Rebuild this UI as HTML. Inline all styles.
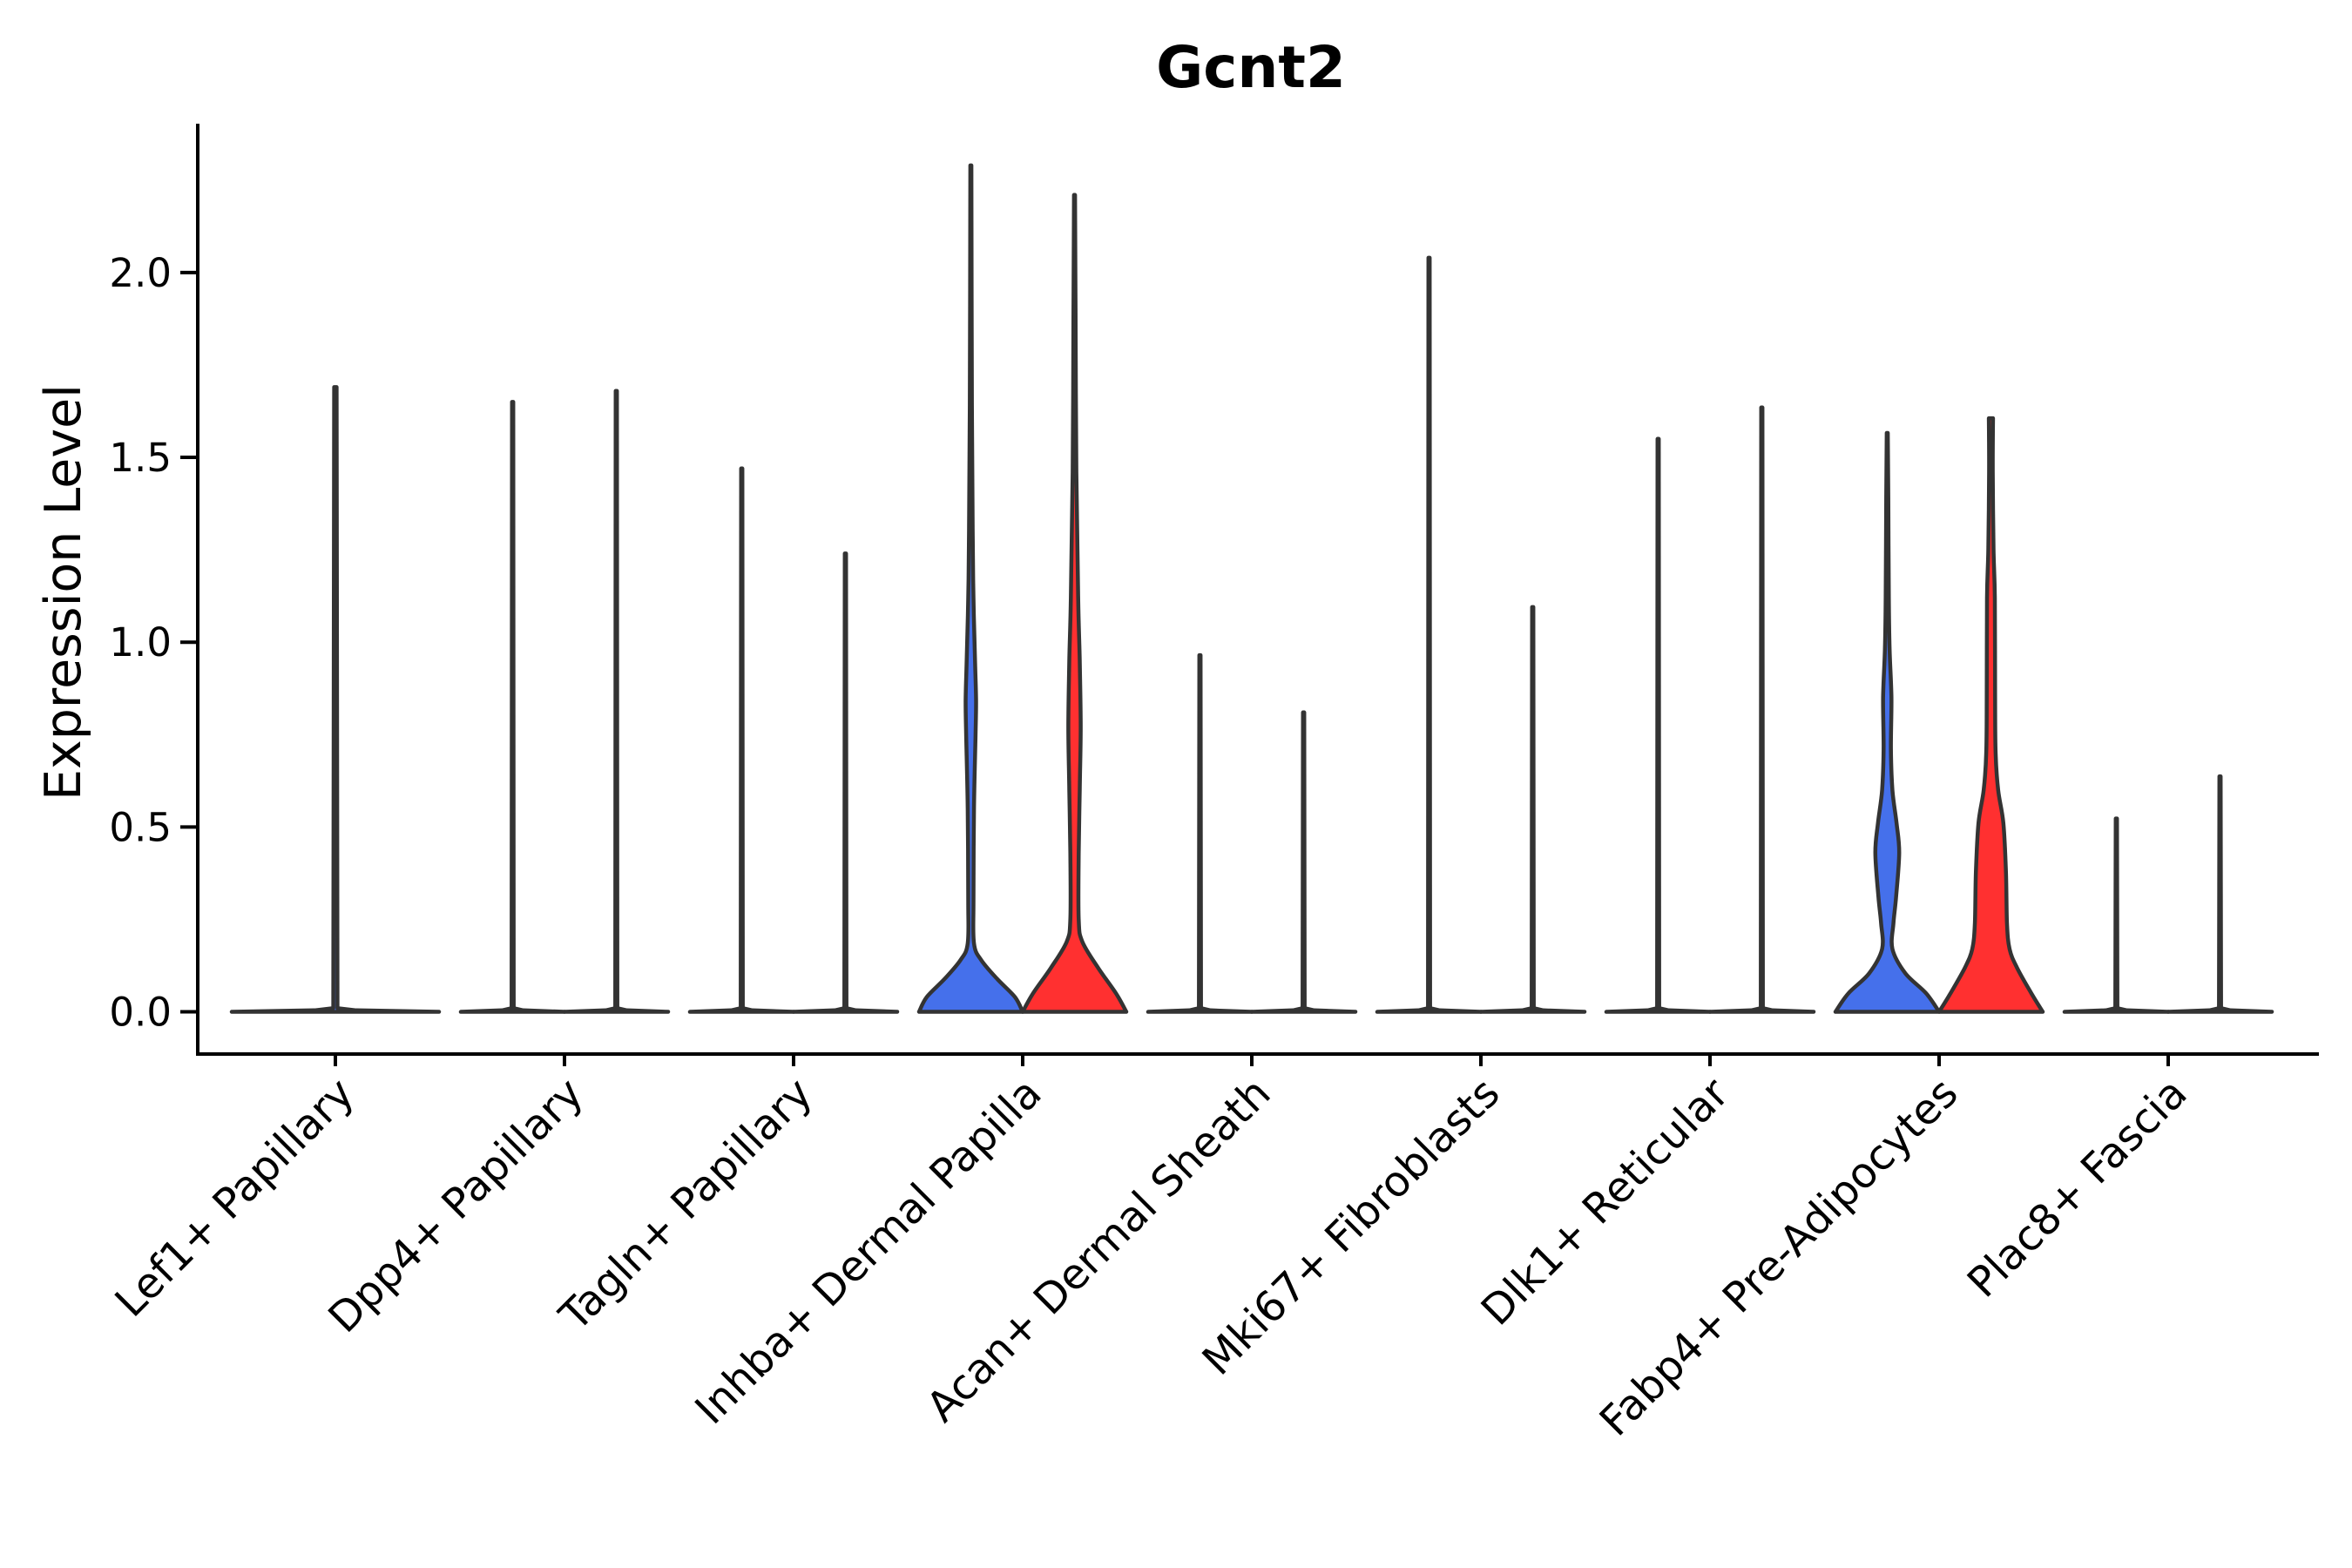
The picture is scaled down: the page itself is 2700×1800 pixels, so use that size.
<!DOCTYPE html>
<html><head><meta charset="utf-8"><style>
html,body{margin:0;padding:0;background:#fff;}
svg{display:block;}
text{font-family:"DejaVu Sans","Liberation Sans",sans-serif;}
</style></head><body>
<svg id="chart" width="2700" height="1800" viewBox="0 0 2700 1800" xmlns="http://www.w3.org/2000/svg">
<text x="1436" y="100" text-anchor="middle" font-size="66" font-weight="bold">Gcnt2</text>
<text transform="translate(92,680) rotate(-90)" text-anchor="middle" font-size="57">Expression Level</text>
<g id="plot"></g>
</svg>
<script>
const categories = ["Lef1+ Papillary","Dpp4+ Papillary","Tagln+ Papillary","Inhba+ Dermal Papilla","Acan+ Dermal Sheath","Mki67+ Fibroblasts","Dlk1+ Reticular","Fabp4+ Pre-Adipocytes","Plac8+ Fascia"];
const yTicks = [0, 0.5, 1.0, 1.5, 2.0];
const yTickLabels = ["0.0","0.5","1.0","1.5","2.0"];
// max expression per group: [groupA, groupB] (null = absent)
const maxA = [1.69, 1.65, 1.47, 2.29, 0.965, 2.04, 1.55, 1.566, 0.523];
const maxB = [null, 1.68, 1.24, 2.21, 0.81, 1.095, 1.635, 1.606, 0.637];
// density profiles [value, relative half-width]
const inhbaA = [[0,1],[0.04,0.85],[0.09,0.5],[0.14,0.2],[0.185,0.06],[0.3,0.05],[0.55,0.06],[0.75,0.09],[0.84,0.1],[0.95,0.08],[1.12,0.05],[1.3,0.035],[1.64,0.02],[2.29,0.01]];
const inhbaB = [[0,1],[0.05,0.8],[0.12,0.45],[0.19,0.15],[0.25,0.08],[0.43,0.08],[0.6,0.1],[0.77,0.12],[0.95,0.1],[1.12,0.07],[1.46,0.035],[1.9,0.02],[2.21,0.01]];
const fabpA = [[0,1],[0.05,0.75],[0.104,0.35],[0.17,0.1],[0.24,0.12],[0.31,0.17],[0.43,0.23],[0.51,0.18],[0.6,0.1],[0.71,0.07],[0.85,0.08],[0.98,0.045],[1.12,0.03],[1.39,0.02],[1.566,0.01]];
const fabpB = [[0,1],[0.05,0.78],[0.12,0.5],[0.17,0.36],[0.24,0.31],[0.375,0.29],[0.51,0.24],[0.6,0.14],[0.7,0.09],[0.85,0.08],[1.12,0.075],[1.25,0.05],[1.46,0.035],[1.606,0.04]];
const colorA = "#4570EB", colorB = "#FF3030";

const NS = "http://www.w3.org/2000/svg";
const g = document.getElementById('plot');
const X0 = 385, DX = 263, HALF = 59.5;
const Y0 = 1161.5, YU = 424.3;
const xCat = i => X0 + DX * i;
const yScale = v => Y0 - v * YU;
function mk(tag, attrs){const e=document.createElementNS(NS,tag);for(const k in attrs)e.setAttribute(k,attrs[k]);g.appendChild(e);return e;}

function smooth(pts){
  let d = "";
  for(let i=0;i<pts.length-1;i++){
    const p0=pts[Math.max(0,i-1)], p1=pts[i], p2=pts[i+1], p3=pts[Math.min(pts.length-1,i+2)];
    const c1=[p1[0]+(p2[0]-p0[0])/6, p1[1]+(p2[1]-p0[1])/6];
    const c2=[p2[0]-(p3[0]-p1[0])/6, p2[1]-(p3[1]-p1[1])/6];
    d += ` C${c1[0].toFixed(1)},${c1[1].toFixed(1)} ${c2[0].toFixed(1)},${c2[1].toFixed(1)} ${p2[0].toFixed(1)},${p2[1].toFixed(1)}`;
  }
  return d;
}
function linear(pts){return pts.slice(1).map(p=>` L${p[0].toFixed(1)},${p[1].toFixed(1)}`).join("");}
function violinPath(cx, hw, prof, useSmooth){
  const right = prof.map(p => [cx + p[1]*hw, yScale(p[0])]);
  const left = prof.slice().reverse().map(p => [cx - p[1]*hw, yScale(p[0])]);
  const f = useSmooth ? smooth : linear;
  return `M${left[left.length-1][0].toFixed(1)},${Y0} L${right[0][0].toFixed(1)},${Y0}` + f(right) +
    ` L${left[0][0].toFixed(1)},${left[0][1].toFixed(1)}` + f(left) + " Z";
}
function flatProf(m){return [[0,1],[0.004,0.2],[0.01,0.02],[m,0.012]];}

categories.forEach((c,i)=>{
  const single = maxB[i] === null;
  const groups = single ? [[xCat(i), HALF*2, maxA[i], colorA, 'a']] :
    [[xCat(i)-HALF, HALF, maxA[i], colorA, 'a'], [xCat(i)+HALF, HALF, maxB[i], colorB, 'b']];
  groups.forEach(gr=>{
    let prof, sm = true;
    if (i===3) prof = gr[4]==='a' ? inhbaA : inhbaB;
    else if (i===7) prof = gr[4]==='a' ? fabpA : fabpB;
    else { prof = flatProf(gr[2]); sm = false; }
    const p = mk('path',{d:violinPath(gr[0],gr[1],prof,sm),fill:gr[3],stroke:'#333333','stroke-width':4.5,'stroke-linejoin':'round','stroke-linecap':'round'});
    
    
  });
  const t = mk('line',{x1:xCat(i),x2:xCat(i),y1:1210,y2:1224,stroke:'#000','stroke-width':4});
  
  
  const lx = xCat(i)+24, ly = 1258;
  const lb = mk('text',{transform:`translate(${lx},${ly}) rotate(-45)`,'text-anchor':'end','font-size':48});
  lb.textContent = c;
  
  
});

yTicks.forEach((v,k)=>{
  const t = mk('line',{x1:207,x2:227,y1:yScale(v),y2:yScale(v),stroke:'#000','stroke-width':4});
  
  
  const lb = mk('text',{x:197,y:yScale(v)+16,'text-anchor':'end','font-size':45});
  lb.textContent = yTickLabels[k];
  
  
});
const ya = mk('line',{x1:227,x2:227,y1:142,y2:1212,stroke:'#000','stroke-width':4});


const xa = mk('line',{x1:225,x2:2662,y1:1210,y2:1210,stroke:'#000','stroke-width':4});


</script>
</body></html>
